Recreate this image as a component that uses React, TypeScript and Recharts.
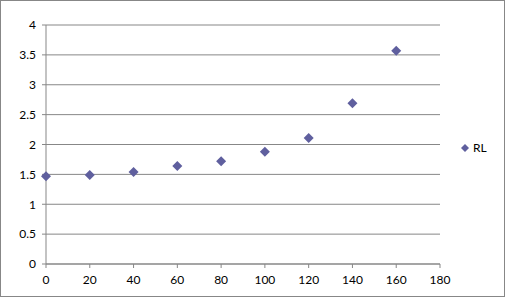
import React from 'react';
import { CartesianGrid, Legend, Scatter, ScatterChart, XAxis, YAxis } from 'recharts';

// sample positions (x) and RL readings (y)
const xValues = [0, 20, 40, 60, 80, 100, 120, 140, 160];
const rlValues = [1.47, 1.49, 1.54, 1.64, 1.72, 1.88, 2.11, 2.69, 3.57];
const xTicks = [0, 20, 40, 60, 80, 100, 120, 140, 160, 180];
const yTicks = [0, 0.5, 1, 1.5, 2, 2.5, 3, 3.5, 4];
const seriesName = 'RL';

const data = xValues.map((x, i) => ({ x, y: rlValues[i] }));

const GRAY = '#878787';
const MARKER = '#5f5f9e';
const FONT = 'Lato, "Open Sans", sans-serif';

const Diamond = (props: any) => {
  const { cx, cy } = props;
  const r = 5;
  return (
    <polygon
      points={`${cx},${cy - r} ${cx + r},${cy} ${cx},${cy + r} ${cx - r},${cy}`}
      fill={MARKER}
    />
  );
};

const LegendRL = () => (
  <div style={{ display: 'flex', alignItems: 'center', fontFamily: FONT, fontSize: 12, color: '#000' }}>
    <svg width={10} height={10} style={{ marginRight: 3 }}>
      <polygon points="5,1 9,5 5,9 1,5" fill={MARKER} />
    </svg>
    <span>{seriesName}</span>
  </div>
);

export default function App() {
  return (
    <div style={{ position: 'absolute', left: 0, top: 0, width: 507, height: 298, background: '#fff' }}>
      <div
        style={{
          position: 'absolute',
          left: 0,
          top: 0,
          width: 503,
          height: 295,
          border: `1px solid ${GRAY}`,
        }}
      />
      <ScatterChart
        width={507}
        height={298}
        margin={{ top: 25, right: 67, bottom: 0, left: 0 }}
        style={{ position: 'absolute', left: 0, top: 0 }}
      >
        <CartesianGrid vertical={false} stroke={GRAY} strokeWidth={1} />
        <XAxis
          type="number"
          dataKey="x"
          domain={[0, 180]}
          ticks={xTicks}
          height={34}
          tickSize={4}
          tickMargin={7}
          stroke={GRAY}
          tick={{ fill: '#000', fontSize: 12, fontFamily: FONT }}
          tickLine={{ stroke: GRAY }}
          axisLine={{ stroke: GRAY }}
        />
        <YAxis
          type="number"
          dataKey="y"
          domain={[0, 4]}
          ticks={yTicks}
          width={46}
          tickSize={4}
          tickMargin={6}
          stroke={GRAY}
          tick={{ fill: '#000', fontSize: 12, fontFamily: FONT }}
          tickLine={{ stroke: GRAY }}
          axisLine={{ stroke: GRAY }}
        />
        <Legend
          layout="horizontal"
          align="center"
          verticalAlign="middle"
          content={LegendRL}
          wrapperStyle={{ left: 460, top: 140, width: 40, height: 16 }}
        />
        <Scatter name={seriesName} data={data} fill={MARKER} shape={Diamond} isAnimationActive={false} />
      </ScatterChart>
    </div>
  );
}
